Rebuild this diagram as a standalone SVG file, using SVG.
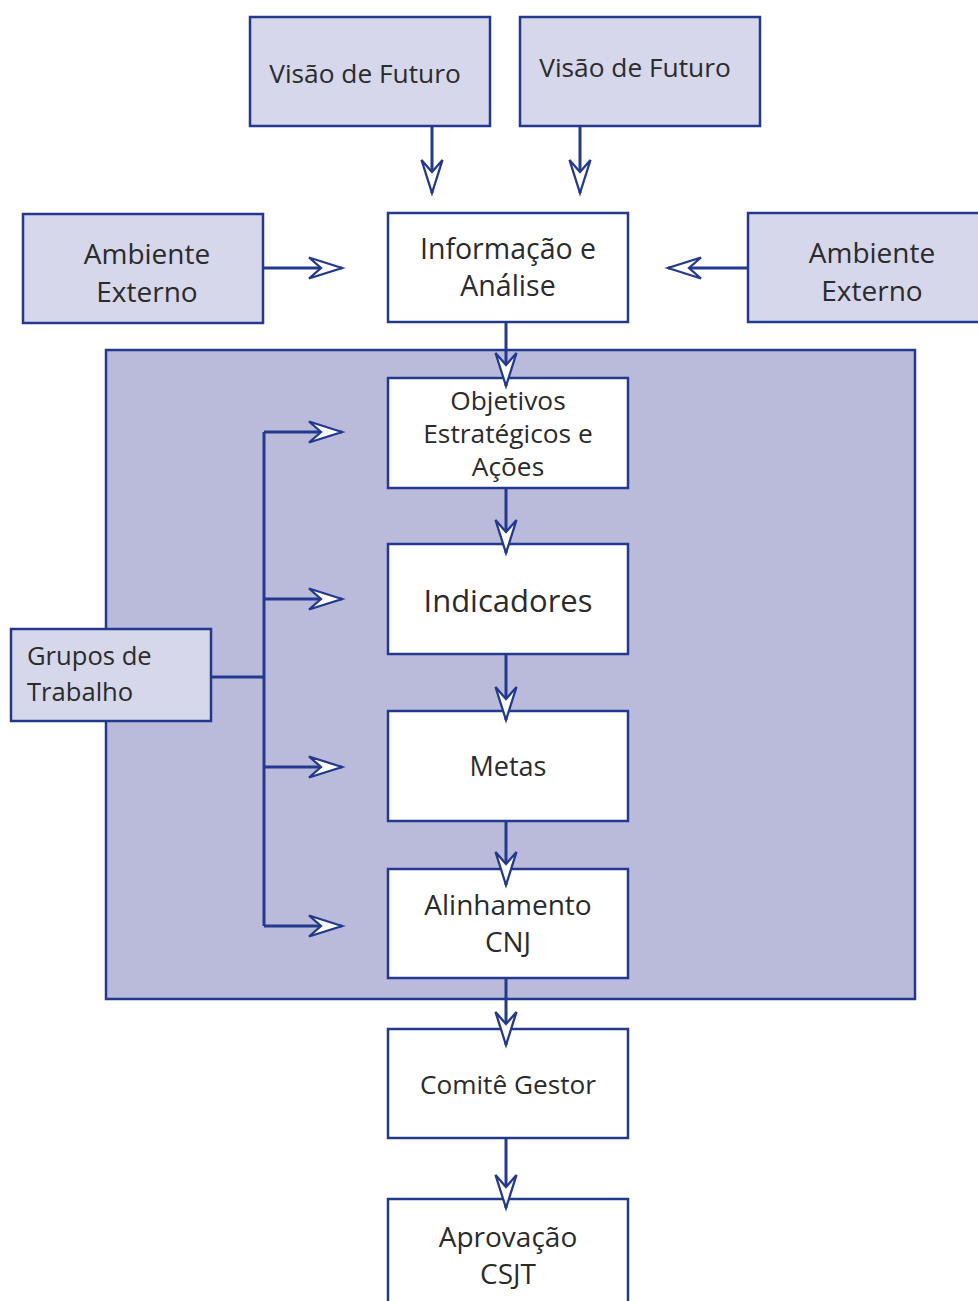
<svg xmlns="http://www.w3.org/2000/svg" width="978" height="1301" viewBox="0 0 978 1301">
<style>
.box{stroke:#22398f;stroke-width:2.5}
.lt{fill:#d6d7ea}
.wh{fill:#ffffff}
.panel{fill:#babbdb;stroke:#22398f;stroke-width:2.5}
.ln{fill:none;stroke:#22398f;stroke-width:3;marker-end:url(#ah)}
.pl{fill:none;stroke:#22398f;stroke-width:3}
text{font-family:"Open Sans","Noto Sans","Liberation Sans",sans-serif;fill:#2b2b2b;text-anchor:middle}
</style>
<defs>
<marker id="ah" markerUnits="userSpaceOnUse" viewBox="-36 -12 38 24" refX="0" refY="0" markerWidth="38" markerHeight="24" orient="auto" overflow="visible">
<path d="M0,0 L-33,-10.5 L-21,0 L-33,10.5 Z" fill="#ffffff" stroke="#22398f" stroke-width="2.3" stroke-linejoin="miter"/>
</marker>
</defs>
<rect class="panel" x="106" y="350" width="809" height="649"/>
<g id="visao1"><rect class="box lt" x="250" y="17" width="240" height="109"/><text x="365" y="83" font-size="26.3">Visão de Futuro</text></g>
<g id="visao2"><rect class="box lt" x="520" y="17" width="240" height="109"/><text x="635" y="77" font-size="26.3">Visão de Futuro</text></g>
<g id="amb1"><rect class="box lt" x="23" y="214" width="240" height="109"/><text x="147" y="264" font-size="28">Ambiente</text><text x="147" y="302" font-size="28">Externo</text></g>
<g id="info"><rect class="box wh" x="388" y="213" width="240" height="109"/><text x="508" y="259" font-size="28.5">Informação e</text><text x="508" y="296" font-size="28.5">Análise</text></g>
<g id="amb2"><rect class="box lt" x="748" y="213" width="240" height="109"/><text x="872" y="263" font-size="28">Ambiente</text><text x="872" y="301" font-size="28">Externo</text></g>
<g id="obj"><rect class="box wh" x="388" y="378" width="240" height="110"/><text x="508" y="410" font-size="26.3">Objetivos</text><text x="508" y="443" font-size="26.3">Estratégicos e</text><text x="508" y="476" font-size="26.3">Ações</text></g>
<g id="ind"><rect class="box wh" x="388" y="544" width="240" height="110"/><text x="508" y="612" font-size="31">Indicadores</text></g>
<g id="metas"><rect class="box wh" x="388" y="711" width="240" height="110"/><text x="508" y="776" font-size="27">Metas</text></g>
<g id="alin"><rect class="box wh" x="388" y="869" width="240" height="109"/><text x="508" y="915" font-size="28">Alinhamento</text><text x="508" y="952" font-size="28">CNJ</text></g>
<g id="comite"><rect class="box wh" x="388" y="1029" width="240" height="109"/><text x="508" y="1094" font-size="26.2">Comitê Gestor</text></g>
<g id="aprov"><rect class="box wh" x="388" y="1199" width="240" height="120"/><text x="508" y="1247" font-size="28">Aprovação</text><text x="508" y="1284" font-size="28">CSJT</text></g>
<g id="grupos"><rect class="box lt" x="11" y="629" width="200" height="92"/><text x="27" y="665" font-size="25.6" style="text-anchor:start">Grupos de</text><text x="27" y="701" font-size="25.6" style="text-anchor:start">Trabalho</text></g>
<g id="connectors">
<path class="ln" d="M432,126 V193"/>
<path class="ln" d="M580,126 V193"/>
<path class="ln" d="M263,268 H342"/>
<path class="ln" d="M748,268 H668"/>
<path class="ln" d="M506,322 V386"/>
<path class="ln" d="M506,488 V553"/>
<path class="ln" d="M506,654 V720"/>
<path class="ln" d="M506,821 V885"/>
<path class="ln" d="M506,978 V1045"/>
<path class="ln" d="M506,1138 V1208"/>
<path class="pl" d="M211,677 H264 M264,432 V926"/>
<path class="ln" d="M264,432 H342"/>
<path class="ln" d="M264,599 H342"/>
<path class="ln" d="M264,767 H342"/>
<path class="ln" d="M264,926 H342"/>
</g>
</svg>
